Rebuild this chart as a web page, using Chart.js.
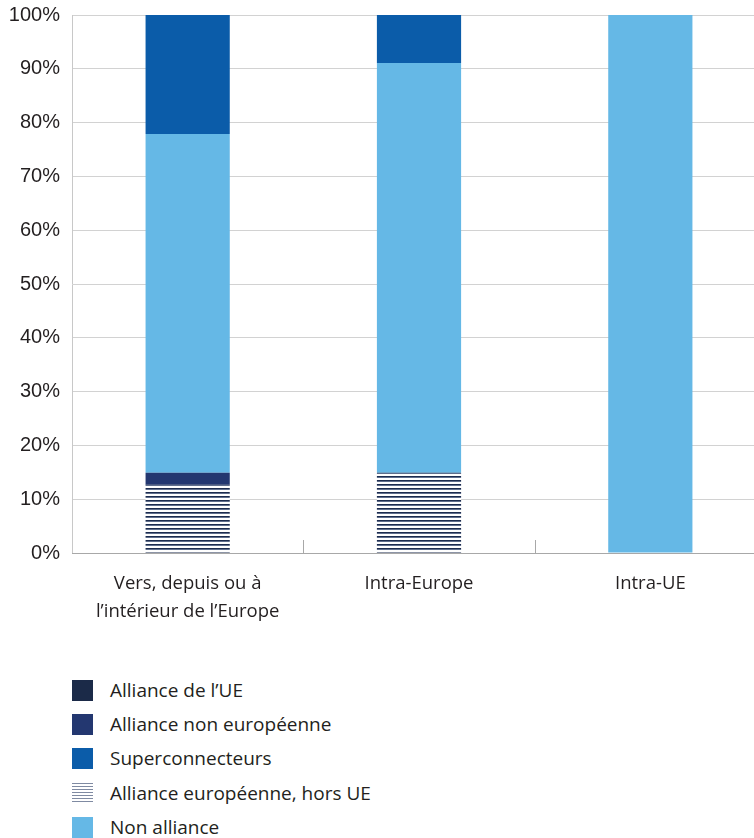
<!DOCTYPE html>
<html>
<head>
<meta charset="utf-8">
<script src="https://cdn.jsdelivr.net/npm/chart.js@4.4.1/dist/chart.umd.min.js"></script>
<style>
  html, body { margin: 0; padding: 0; background: #fff; overflow: hidden; width: 754px; height: 838px; }
  #wrap { position: absolute; left: 0; top: 0; width: 770px; height: 660px; }
  #legend { position: absolute; left: 72px; top: 680px; font-family: "Open Sans", sans-serif; font-size: 19px; color: #231f20; }
  .item { height: 34.2px; display: flex; align-items: flex-start; }
  .sw { width: 21px; height: 21px; margin-right: 17px; flex: none; }
  .lbl { line-height: 21px; }
</style>
</head>
<body>
<div id="wrap"><canvas id="c" width="770" height="660"></canvas></div>
<div id="legend"></div>
<script>
const categories = [["Vers, depuis ou à", "l’intérieur de l’Europe"], "Intra-Europe", "Intra-UE"];
const yTickLabels = ["0%","10%","20%","30%","40%","50%","60%","70%","80%","90%","100%"];
const allianceUE = [0, 0, 0];
const allianceEuropeenneHorsUE = [12.7, 14.9, 0];
const allianceNonEuropeenne = [2.2, 0, 0];
const nonAlliance = [63.0, 76.2, 100];
const superconnecteurs = [22.1, 8.9, 0];

function makeHatch() {
  const p = document.createElement('canvas');
  p.width = 8; p.height = 4;
  const g = p.getContext('2d');
  g.fillStyle = '#ffffff'; g.fillRect(0, 0, 8, 4);
  g.fillStyle = '#1d2c4e'; g.fillRect(0, 0, 8, 1);
  g.fillStyle = '#5f6e8c'; g.fillRect(0, 1, 8, 1);
  return g.createPattern(p, 'repeat');
}
const ctx = document.getElementById('c').getContext('2d');
const hatch = makeHatch();

const datasets = [
  { label: "Alliance de l’UE", data: allianceUE, backgroundColor: '#1b2a48', legendOrder: 0 },
  { label: "Alliance européenne, hors UE", data: allianceEuropeenneHorsUE, backgroundColor: hatch, legendOrder: 3, hatched: true },
  { label: "Alliance non européenne", data: allianceNonEuropeenne, backgroundColor: '#233770', legendOrder: 1 },
  { label: "Non alliance", data: nonAlliance, backgroundColor: '#65b8e6', legendOrder: 4 },
  { label: "Superconnecteurs", data: superconnecteurs, backgroundColor: '#0b5ca9', legendOrder: 2 }
];

const catTicks = {
  id: 'catTicks',
  afterDatasetsDraw(chart) {
    const x = chart.scales.x, y = chart.scales.y, c = chart.ctx;
    c.save();
    c.strokeStyle = '#a8a8a8'; c.lineWidth = 1;
    for (let i = 1; i < categories.length; i++) {
      const px = Math.round((x.getPixelForValue(i - 1) + x.getPixelForValue(i)) / 2) + 0.5;
      c.beginPath(); c.moveTo(px, y.bottom - 13); c.lineTo(px, y.bottom); c.stroke();
    }
    c.beginPath(); c.moveTo(chart.chartArea.left, Math.round(y.bottom) + 0.5); c.lineTo(chart.chartArea.right, Math.round(y.bottom) + 0.5); c.stroke();
    c.restore();
  }
};

const chart = new Chart(ctx, {
  type: 'bar',
  data: { labels: categories, datasets },
  options: {
    responsive: false,
    animation: false,
    layout: { padding: { top: 15, right: 4, left: 0, bottom: 0 } },
    plugins: { legend: { display: false }, tooltip: { enabled: false } },
    datasets: { bar: { categoryPercentage: 1, barPercentage: 0.364 } },
    scales: {
      x: {
        stacked: true,
        grid: { display: false, drawTicks: false },
        border: { display: false },
        ticks: { color: '#231f20', font: { family: 'Open Sans', size: 18.5, lineHeight: 1.5 }, padding: 17, maxRotation: 0 },
        afterFit(s) { s.height = 107; }
      },
      y: {
        stacked: true, min: 0, max: 100,
        grid: { color: '#d2d2d2', drawTicks: false },
        border: { display: true, color: '#c8c8c8' },
        ticks: { stepSize: 10, color: '#231f20', font: { family: 'Liberation Sans', size: 20 }, padding: 12,
                 callback: (v) => yTickLabels[Math.round(v / 10)] },
        afterFit(s) { s.width = 72; s.paddingTop = 0; s.paddingBottom = 0; }
      }
    }
  },
  plugins: [catTicks]
});

// HTML legend built from datasets
const leg = document.getElementById('legend');
datasets.slice().sort((a, b) => a.legendOrder - b.legendOrder).forEach(d => {
  const it = document.createElement('div'); it.className = 'item';
  const sw = document.createElement('div'); sw.className = 'sw';
  if (d.hatched) {
    sw.style.background = 'repeating-linear-gradient(to bottom, #7f8aa2 0px, #7f8aa2 1px, #ffffff 1px, #ffffff 3px)';
  } else {
    sw.style.background = d.backgroundColor;
  }
  const lb = document.createElement('div'); lb.className = 'lbl'; lb.textContent = d.label;
  it.appendChild(sw); it.appendChild(lb); leg.appendChild(it);
});
</script>
</body>
</html>
